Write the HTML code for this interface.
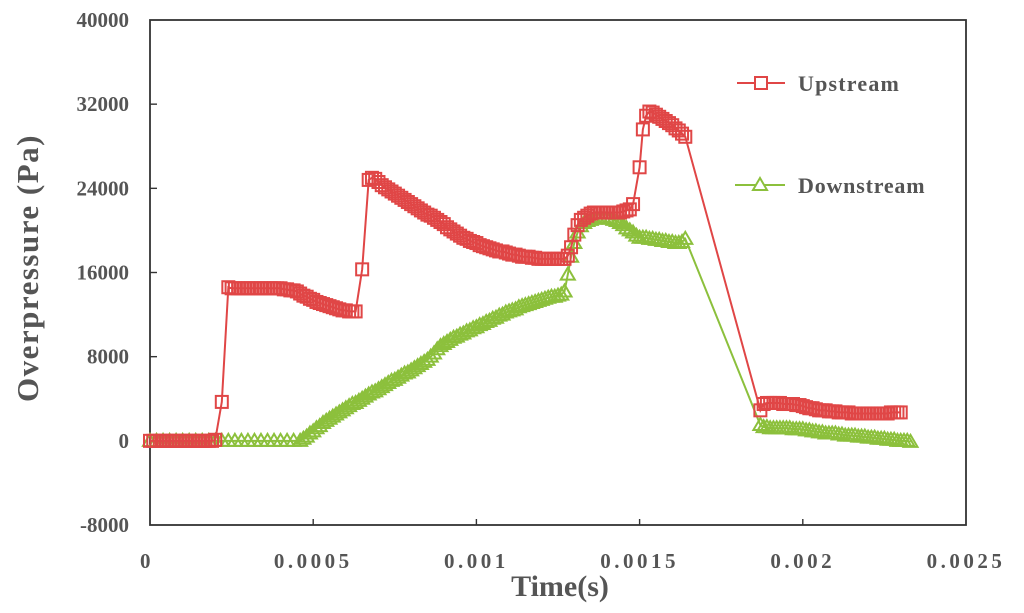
<!DOCTYPE html>
<html><head><meta charset="utf-8"><style>
html,body{margin:0;padding:0;background:#fff;}
svg{display:block;font-family:"Liberation Serif",serif;}
</style></head><body>
<svg id="chart" width="1024" height="613" viewBox="0 0 1024 613" xmlns="http://www.w3.org/2000/svg">
<g id="axes"></g>
<g id="series"></g>
<text transform="translate(38,268) rotate(-90)" text-anchor="middle" font-size="31" font-weight="bold" fill="#555" letter-spacing="1.5">Overpressure (Pa)</text>
<text x="560" y="596" text-anchor="middle" font-size="30" font-weight="bold" fill="#555">Time(s)</text>
<g>
<g>
<line x1="737" y1="83" x2="785" y2="83" stroke="#e04646" stroke-width="2"/>
<rect x="755" y="77" width="12" height="12" fill="#fff" stroke="#e04646" stroke-width="2"/>
<text x="798" y="91" font-size="22" font-weight="bold" fill="#555" letter-spacing="1.2">Upstream</text>
</g>
<g>
<line x1="735" y1="185" x2="785" y2="185" stroke="#8cc03c" stroke-width="2"/>
<polygon points="760,178 767,190 753,190" fill="#fff" stroke="#8cc03c" stroke-width="2"/>
<text x="798" y="193" font-size="22" font-weight="bold" fill="#555" letter-spacing="0.8">Downstream</text>
</g>
</g>
</svg>
<script>
const xTicks=[0,0.5,1,1.5,2,2.5];
const xTickLabels=["0","0.0005","0.001","0.0015","0.002","0.0025"];
const yTicks=[-8000,0,8000,16000,24000,32000,40000];
const yTickLabels=["-8000","0","8000","16000","24000","32000","40000"];
// time in ms
const upT=[0,0.01,0.02,0.03,0.04,0.05,0.06,0.07,0.08,0.09,0.10,0.11,0.12,0.13,0.14,0.15,0.16,0.17,0.18,0.19,0.20,0.22,0.24,
0.25,0.26,0.27,0.28,0.29,0.30,0.31,0.32,0.33,0.34,0.35,0.36,0.37,0.38,0.39,0.40,
0.41,0.42,0.43,0.44,0.45,0.46,0.47,0.48,0.49,0.50,0.51,0.52,0.53,0.54,0.55,0.56,0.57,0.58,0.59,0.60,0.61,0.62,0.63,
0.65,0.67,0.68,
0.69,0.70,0.71,0.72,0.73,0.74,0.75,0.76,0.77,0.78,0.79,0.80,0.81,0.82,0.83,0.84,0.85,0.86,0.87,0.88,0.89,0.90,0.91,0.92,0.93,0.94,0.95,0.96,0.97,0.98,0.99,1.00,1.01,1.02,1.03,1.04,1.05,1.06,1.07,1.08,1.09,1.10,1.11,1.12,1.13,1.14,1.15,1.16,1.17,1.18,1.19,1.20,1.21,1.22,1.23,1.24,1.25,1.26,1.27,
1.28,1.29,1.30,1.31,1.32,1.33,1.34,1.35,1.36,1.37,1.38,1.39,1.40,1.41,1.42,1.43,1.44,1.45,1.46,1.47,1.48,1.50,1.51,1.52,1.53,1.54,1.55,1.56,1.57,1.58,1.59,1.60,1.61,1.62,1.63,1.64,
1.87,1.88,
1.89,1.90,1.91,1.92,1.93,1.94,1.95,1.96,1.97,1.98,1.99,2.00,2.01,2.02,2.03,2.04,2.05,2.06,2.07,2.08,2.09,2.10,2.11,2.12,2.13,2.14,2.15,2.16,2.17,2.18,2.19,2.20,2.21,2.22,2.23,2.24,2.25,2.26,2.27,2.28,2.29,2.30];
const upV=[0,0,0,0,0,0,0,0,0,0,0,0,0,0,0,0,0,0,0,0,100,3700,14600,
14500,14500,14500,14500,14500,14500,14500,14500,14500,14500,14500,14500,14500,14500,14500,14500,
14400,14400,14300,14300,14200,14000,13800,13700,13500,13400,13200,13100,13000,12900,12800,12700,12600,12500,12400,12400,12300,12300,12300,
16300,24800,25000,
24900,24600,24300,24100,23900,23700,23500,23300,23100,22900,22700,22500,22300,22100,21900,21700,21500,21400,21200,21000,20800,20600,20300,20100,19900,19700,19500,19300,19200,19000,18900,18800,18600,18500,18400,18300,18200,18100,18000,18000,17900,17800,17700,17700,17600,17500,17500,17500,17400,17400,17300,17300,17300,17300,17300,17300,17300,17300,17300,
17600,18400,19600,20500,21000,21200,21400,21600,21700,21700,21700,21700,21700,21700,21700,21700,21700,21800,21900,22000,22500,26000,29600,30900,31300,31200,31000,30800,30600,30400,30200,30000,29700,29500,29200,28900,
2900,3500,
3600,3600,3600,3600,3600,3500,3500,3500,3500,3400,3400,3300,3200,3100,3100,3000,2900,2900,2900,2800,2800,2800,2700,2700,2700,2700,2600,2600,2600,2600,2600,2600,2600,2600,2600,2600,2600,2600,2700,2700,2700,2700];
const dnT=[0,0.02,0.04,0.06,0.08,0.10,0.12,0.14,0.16,0.18,0.20,0.22,0.24,0.26,0.28,0.30,0.32,0.34,0.36,0.38,0.40,0.42,0.44,0.46,0.47,0.48,0.49,0.50,0.51,0.52,0.53,0.54,0.55,0.56,0.57,0.58,0.59,0.60,0.61,0.62,0.63,0.64,0.65,0.66,0.67,0.68,0.69,0.70,0.71,0.72,0.73,0.74,0.75,0.76,0.77,0.78,0.79,0.80,0.81,0.82,0.83,0.84,0.85,0.86,0.87,0.88,0.89,0.90,0.91,0.92,0.93,0.94,0.95,0.96,0.97,0.98,0.99,1.00,1.01,1.02,1.03,1.04,1.05,1.06,1.07,1.08,1.09,1.10,1.11,1.12,1.13,1.14,1.15,1.16,1.17,1.18,1.19,1.20,1.21,1.22,1.23,1.24,1.25,1.26,1.27,1.28,1.29,1.30,1.31,1.32,1.33,1.34,1.35,1.36,1.37,1.38,1.39,1.40,1.41,1.42,1.43,1.44,1.45,1.46,1.47,1.48,1.49,1.50,1.51,1.52,1.53,1.54,1.55,1.56,1.57,1.58,1.59,1.60,1.61,1.62,1.63,1.64,1.87,1.88,1.89,1.90,1.91,1.92,1.93,1.94,1.95,1.96,1.97,1.98,1.99,2.00,2.01,2.02,2.03,2.04,2.05,2.06,2.07,2.08,2.09,2.10,2.11,2.12,2.13,2.14,2.15,2.16,2.17,2.18,2.19,2.20,2.21,2.22,2.23,2.24,2.25,2.26,2.27,2.28,2.29,2.30,2.31,2.32,2.33];
const dnV=[0,0,0,0,0,0,0,0,0,0,0,0,0,0,0,0,0,0,0,0,0,0,0,0,200,400,700,900,1200,1400,1700,1900,2100,2300,2500,2700,2900,3100,3300,3500,3600,3800,4000,4200,4400,4600,4700,4900,5100,5300,5500,5700,5800,6000,6200,6400,6500,6700,6900,7100,7300,7500,7700,8000,8300,8700,9000,9200,9400,9600,9800,9900,10100,10200,10400,10500,10700,10800,11000,11100,11300,11400,11600,11700,11900,12000,12200,12300,12400,12500,12700,12800,12900,13000,13100,13200,13300,13400,13500,13600,13700,13700,13800,13900,14200,15800,17500,18800,19800,20400,20700,20900,21000,21100,21200,21200,21200,21200,21100,21000,20900,20700,20500,20200,20000,19800,19500,19300,19300,19300,19200,19200,19100,19100,19000,19000,18900,18900,18800,18800,18900,19200,1500,1300,1300,1200,1200,1200,1200,1200,1200,1200,1100,1100,1100,1100,1000,1000,900,900,800,800,700,700,700,700,600,600,500,500,500,500,400,400,400,300,300,300,200,200,200,100,100,100,0,0,0,0,-100];

const X0=150,X1=966,Y0=525,Y1=20;
const xs=t=>X0+(t-0)/(2.5-0)*(X1-X0);
const ys=v=>Y0-(v-(-8000))/(40000-(-8000))*(Y0-Y1);
const NS="http://www.w3.org/2000/svg";
const axes=document.getElementById('axes'), ser=document.getElementById('series');
function mk(tag,attrs,parent){const e=document.createElementNS(NS,tag);for(const k in attrs)e.setAttribute(k,attrs[k]);parent.appendChild(e);return e;}
let e=mk('rect',{x:X0,y:Y1,width:X1-X0,height:Y0-Y1,fill:'none',stroke:'#333','stroke-width':1.8},axes);


xTicks.forEach((t,i)=>{
  if(i>0&&i<xTicks.length-1){const l=mk('line',{x1:xs(t),y1:Y0,x2:xs(t),y2:Y0-6,stroke:'#333','stroke-width':1.4},axes);
  
  }
  const tx=mk('text',{x:xs(t)+(i==0?-3:0),y:568,'text-anchor':'middle','font-size':21,'font-weight':'bold',fill:'#555','letter-spacing':3.5},axes);
  tx.textContent=xTickLabels[i];
  
  
});
yTicks.forEach((v,i)=>{
  if(i>0&&i<yTicks.length-1){const l=mk('line',{x1:X0,y1:ys(v),x2:X0+7,y2:ys(v),stroke:'#333','stroke-width':1.4},axes);
  
  }
  const tx=mk('text',{x:129,y:ys(v)+7,'text-anchor':'end','font-size':21,'font-weight':'bold',fill:'#555'},axes);
  tx.textContent=yTickLabels[i];
  
  
});
function drawSeries(T,V,color,shape,name){
  const g=mk('g',{},ser);
  
  
  const n=Math.min(T.length,V.length);
  const pts=[];for(let i=0;i<n;i++)pts.push(xs(T[i])+','+ys(V[i]));
  const pl=mk('polyline',{points:pts.join(' '),fill:'none',stroke:color,'stroke-width':2},g);
  
  
  for(let i=0;i<n;i++){
    const x=xs(T[i]),y=ys(V[i]);let m;
    if(shape==='sq') m=mk('rect',{x:x-6,y:y-6,width:12,height:12,fill:'none',stroke:color,'stroke-width':2},g);
    else m=mk('polygon',{points:`${x},${y-7} ${x+7},${y+5} ${x-7},${y+5}`,fill:'none',stroke:color,'stroke-width':2},g);
    
    
  }
}
drawSeries(dnT,dnV,'#8cc03c','tri','downstream');
drawSeries(upT,upV,'#e04646','sq','upstream');
</script>
</body></html>
